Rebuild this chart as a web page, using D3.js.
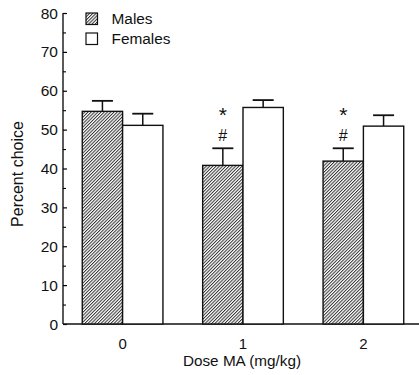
<!DOCTYPE html>
<html>
<head>
<meta charset="utf-8">
<script src="https://cdn.jsdelivr.net/npm/d3@7/dist/d3.min.js"></script>
<style>
    body { margin: 0; background: #fff; }
    svg text { font-family: "Liberation Sans", Arial, sans-serif; fill: #111; }
</style>
</head>
<body>
<div id="chart"></div>
<script>
    // data
    const doses = ["0", "1", "2"];
    const groups = ["Males", "Females"];
    const means_males = [54.7, 40.8, 41.9];
    const means_females = [51.1, 55.7, 50.9];
    const sem_males = [2.7, 4.4, 3.3];
    const sem_females = [3.0, 1.9, 2.8];
    const marks_males = [[], ["#", "*"], ["#", "*"]];
    const y_ticks = [0, 10, 20, 30, 40, 50, 60, 70, 80];

    const width = 419,
        height = 375;

    let svg = d3.select("#chart")
        .append("svg")
        .attr("width", width)
        .attr("height", height);

    // hatch for males
    const hs = 2.3;
    svg.append("defs")
        .append("pattern")
        .attr("id", "hatch")
        .attr("patternUnits", "userSpaceOnUse")
        .attr("width", hs)
        .attr("height", hs)
        .attr("patternTransform", "rotate(45)")
        .call(p => {
            p.append("rect").attr("width", hs).attr("height", hs).attr("fill", "#fff");
            p.append("line")
                .attr("x1", 0.5).attr("x2", 0.5)
                .attr("y1", 0).attr("y2", hs)
                .attr("stroke", "#333")
                .attr("stroke-width", 1);
        });

    let x = d3.scaleBand()
        .domain(doses)
        .range([63, 423])
        .paddingInner(0.33)
        .paddingOuter(0.16);

    let x_inner = d3.scaleBand()
        .domain(groups)
        .range([0, x.bandwidth()]);

    let y = d3.scaleLinear()
        .domain([0, 80])
        .range([324, 13]);

    // y axis (ticks pointing inward)
    let y_axis = svg.append("g")
        .attr("transform", "translate(63,0)")
        .call(d3.axisRight(y).tickValues(y_ticks).tickSize(4).tickFormat(""));
    y_axis.select(".domain").attr("d", `M0,${y(80)}V${y(0)}`).attr("stroke-width", 1.3);
    y_axis.selectAll(".tick line").attr("stroke-width", 1.2);

    svg.append("g")
        .attr("transform", "translate(63,0)")
        .call(d3.axisRight(y).tickValues(d3.range(5, 80, 10)).tickSize(3).tickFormat(""))
        .call(g => g.select(".domain").remove())
        .selectAll(".tick line").attr("stroke-width", 1.1);

    svg.append("g")
        .selectAll("text")
        .data(y_ticks)
        .enter()
        .append("text")
        .attr("x", 58)
        .attr("y", d => y(d))
        .attr("dy", "0.36em")
        .attr("text-anchor", "end")
        .style("font-size", "15.5px")
        .text(d => d);

    // x axis line
    svg.append("line")
        .attr("x1", 63).attr("x2", width)
        .attr("y1", y(0)).attr("y2", y(0))
        .attr("stroke", "#111")
        .attr("stroke-width", 1.5);

    svg.append("g")
        .selectAll("text")
        .data(doses)
        .enter()
        .append("text")
        .attr("x", d => x(d) + x.bandwidth() / 2)
        .attr("y", 349)
        .attr("text-anchor", "middle")
        .style("font-size", "15px")
        .text(d => d);

    // bars
    let rows = doses.map((d, i) => [
        {dose: d, group: "Males", mean: means_males[i], sem: sem_males[i], marks: marks_males[i]},
        {dose: d, group: "Females", mean: means_females[i], sem: sem_females[i], marks: []}
    ]).flat();

    let bar = svg.append("g")
        .selectAll("g")
        .data(rows)
        .enter()
        .append("g")
        .attr("transform", d => `translate(${x(d.dose) + x_inner(d.group)},0)`);

    const bw = x_inner.bandwidth();

    bar.append("line")
        .attr("x1", bw / 2).attr("x2", bw / 2)
        .attr("y1", d => y(d.mean)).attr("y2", d => y(d.mean + d.sem))
        .attr("stroke", "#111").attr("stroke-width", 1.5);
    bar.append("line")
        .attr("x1", bw / 2 - 10.5).attr("x2", bw / 2 + 10.5)
        .attr("y1", d => y(d.mean + d.sem)).attr("y2", d => y(d.mean + d.sem))
        .attr("stroke", "#111").attr("stroke-width", 1.8);

    bar.append("rect")
        .attr("x", 0)
        .attr("y", d => y(d.mean))
        .attr("width", bw)
        .attr("height", d => y(0) - y(d.mean))
        .attr("fill", d => d.group === "Males" ? "url(#hatch)" : "#fff")
        .attr("stroke", "#111")
        .attr("stroke-width", 1.4);

    // significance marks above males bars
    bar.selectAll(".mark")
        .data(d => d.marks.map((m, k) => ({m, k, top: d.mean + d.sem})))
        .enter()
        .append("text")
        .attr("class", "mark")
        .attr("x", bw / 2)
        .attr("y", d => d.m === "*" ? y(d.top) - 26 : y(d.top) - 7)
        .attr("text-anchor", "middle")
        .style("font-size", d => d.m === "*" ? "21px" : "16px")
        .text(d => d.m);

    // legend
    let legend = svg.append("g")
        .selectAll("g")
        .data(groups)
        .enter()
        .append("g")
        .attr("transform", (d, i) => `translate(86,${13 + i * 20})`);
    legend.append("rect")
        .attr("width", 11.5).attr("height", 11.5)
        .attr("fill", d => d === "Males" ? "url(#hatch)" : "#fff")
        .attr("stroke", "#111").attr("stroke-width", 1.2);
    legend.append("text")
        .attr("x", 25.5).attr("y", 11.3)
        .style("font-size", "15.4px")
        .text(d => d);

    // axis titles
    svg.append("text")
        .attr("transform", "translate(23,174) rotate(-90)")
        .attr("text-anchor", "middle")
        .style("font-size", "16px")
        .text("Percent choice");

    svg.append("text")
        .attr("x", 242).attr("y", 366)
        .attr("text-anchor", "middle")
        .style("font-size", "15.3px")
        .text("Dose MA (mg/kg)");
</script>
</body>
</html>
